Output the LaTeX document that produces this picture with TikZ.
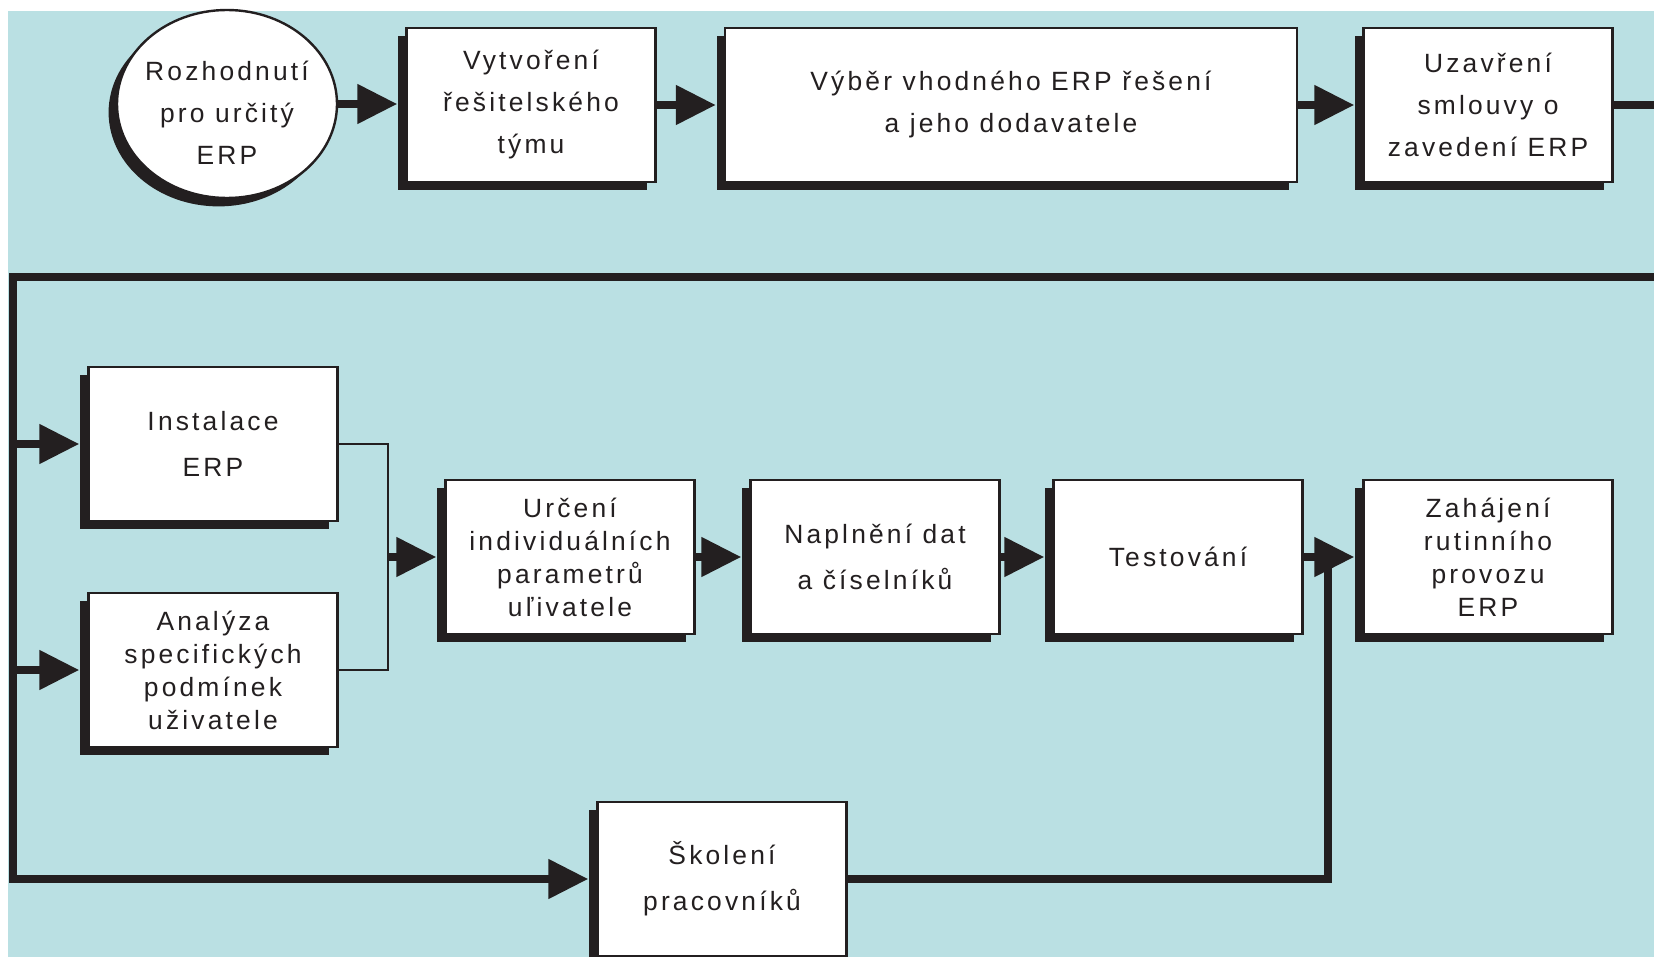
\documentclass[tikz,border=0pt]{standalone}
\usepackage{fontspec}
\setmainfont{Liberation Sans}[LetterSpace=12]
\usetikzlibrary{arrows.meta,shadows,shapes.geometric}

\definecolor{bgblue}{RGB}{186,224,227}
\definecolor{ink}{RGB}{35,31,32}

\tikzset{
  blok/.style={draw=ink, line width=1.2pt, fill=white, minimum width=124.5pt,
    minimum height=77pt, align=center, inner sep=2pt, text=ink,
    drop shadow={shadow xshift=-4.2pt, shadow yshift=-4.2pt, fill=ink, opacity=1},
    font=\fontsize{13.2}{21}\selectfont},
  oval/.style={ellipse, draw=ink, line width=1.2pt, fill=white, minimum width=110pt,
    minimum height=94pt, inner sep=0pt,
    drop shadow={shadow xshift=-4.2pt, shadow yshift=-4.2pt, fill=ink, opacity=1}},
  ovaltext/.style={align=center, text=ink, inner sep=0pt, font=\fontsize{13.2}{21}\selectfont},
  dva/.style={font=\fontsize{13.2}{23}\selectfont},
  ctyri/.style={font=\fontsize{13.2}{16.5}\selectfont},
  tok/.style={draw=ink, line width=4pt, -{Triangle[length=20pt,width=19pt]}, shorten >=4pt},
  vedeni/.style={draw=ink, line width=4pt},
  spoj/.style={draw=ink, line width=1.1pt},
}

\begin{document}
\begin{tikzpicture}[x=0.5pt, y=-0.5pt]

  \useasboundingbox (0,0) rectangle (1654,957);
  \fill[white] (0,0) rectangle (1654,957);
  \fill[bgblue] (8,11) rectangle (1654,957);

  % first row
  \node[oval] (rozh) at (227,104) {};
  \node[ovaltext] (rozhtxt) at (227,113) {Rozhodnutí\\pro určitý\\ERP};
  \node[blok] (tym) at (531,105) {Vytvoření\\řešitelského\\týmu};
  \node[blok, minimum width=286pt] (vyber) at (1011,105) {Výběr vhodného ERP řešení\\a jeho dodavatele};
  \node[blok] (smlouva) at (1488,105) {Uzavření\\smlouvy o\\zavedení ERP};

  % second row
  \node[blok, dva] (instal) at (213,444) {Instalace\\ERP};
  \node[blok, ctyri] (analyza) at (213,670) {Analýza\\specifických\\podmínek\\uživatele};
  \node[blok, ctyri] (urceni) at (570,557) {Určení\\individuálních\\parametrů\\uľivatele};
  \node[blok, dva] (naplneni) at (875,557) {Naplnění dat\\a číselníků};
  \node[blok] (test) at (1178,557) {Testování};
  \node[blok, ctyri] (zahaj) at (1488,557) {Zahájení\\rutinního\\provozu\\ERP};
  \node[blok, dva] (skol) at (722,879) {Školení\\pracovníků};

  \coordinate (vpravo) at (1654,105);
  \coordinate (smyckaR) at (1654,277);
  \coordinate (smyckaL) at (13,277);
  \coordinate (uzel) at (388,557);
  \coordinate (zlom) at (1328,565);

  % connectors
  \draw[tok] (rozh.east) -- (rozh.east -| tym.west);
  \draw[tok] (tym.east) -- (vyber.west);
  \draw[tok] (vyber.east) -- (smlouva.west);
  \draw[vedeni] (smlouva.east) -- (smlouva.east -| vpravo);
  \draw[tok] (smyckaR) -- (smyckaL) |- (skol.west);
  \draw[tok] (smyckaL |- instal.west) -- (instal.west);
  \draw[tok] (smyckaL |- analyza.west) -- (analyza.west);
  \draw[spoj] (instal.east) -| (uzel) |- (analyza.east);
  \draw[tok] (uzel) -- (urceni.west);
  \draw[tok] (urceni.east) -- (naplneni.west);
  \draw[tok] (naplneni.east) -- (test.west);
  \draw[vedeni] (skol.east) -| (zlom);
  \draw[tok] (test.east) -- (zahaj.west);

\end{tikzpicture}
\end{document}
